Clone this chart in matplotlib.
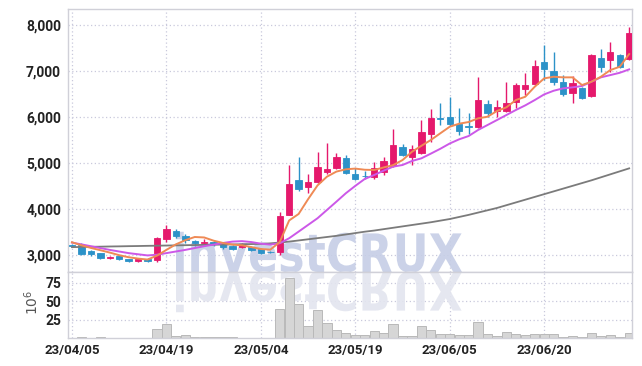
import numpy as np
import matplotlib
matplotlib.use("Agg")
import matplotlib.pyplot as plt
from matplotlib.textpath import TextPath
from matplotlib.patches import PathPatch
from matplotlib.font_manager import FontProperties
from matplotlib.transforms import Affine2D

# daily candles, 60 trading days (23/04/05 .. 23/07/xx)
opens = [3225, 3230, 3090, 3055, 2950, 2980, 2915, 2880, 2930, 2900,
         3360, 3530, 3420, 3310, 3280, 3290, 3240, 3205, 3180, 3190,
         3130, 3080, 3080, 3880, 4640, 4480, 4600, 4820, 4890, 5110,
         4760, 4730, 4710, 4805, 4950, 5350, 5140, 5220, 5630, 5985,
         6000, 5850, 5800, 5780, 6280, 6140, 6140, 6340, 6610, 6720,
         7200, 7000, 6760, 6530, 6640, 6460, 7280, 7240, 7350, 7260]
closes = [3215, 3040, 3020, 2950, 2965, 2920, 2880, 2915, 2880, 3370,
          3580, 3420, 3340, 3270, 3300, 3240, 3190, 3140, 3230, 3120,
          3060, 3065, 3860, 4550, 4440, 4590, 4920, 4880, 5130, 4790,
          4660, 4715, 4890, 5050, 5400, 5190, 5300, 5680, 5980, 5970,
          5850, 5710, 5790, 6370, 6100, 6215, 6300, 6690, 6710, 7110,
          7040, 6770, 6500, 6750, 6420, 7350, 7100, 7410, 7080, 7830]
highs = [3250, 3260, 3110, 3060, 2980, 3000, 2920, 2940, 2940, 3400,
         3670, 3580, 3470, 3340, 3350, 3320, 3260, 3230, 3260, 3210,
         3150, 3090, 3950, 4960, 5130, 4760, 5240, 5440, 5220, 5180,
         4890, 4830, 5020, 5140, 5740, 5420, 5390, 5940, 6170, 6310,
         6430, 6210, 6090, 6880, 6370, 6370, 6760, 6740, 6950, 7240,
         7570, 7420, 6910, 6890, 6660, 7370, 7490, 7640, 7370, 7950]
lows = [3200, 3010, 2990, 2920, 2930, 2900, 2860, 2860, 2860, 2860,
        3300, 3370, 3280, 3200, 3250, 3210, 3150, 3110, 3160, 3090,
        3030, 3050, 3000, 3870, 4400, 4360, 4580, 4760, 4870, 4760,
        4640, 4660, 4650, 4740, 4930, 5160, 4970, 5200, 5470, 5840,
        5800, 5610, 5630, 5760, 6010, 6010, 6120, 6190, 6480, 6700,
        6810, 6700, 6460, 6300, 6400, 6440, 6990, 6990, 7060, 7240]

# moving averages as drawn
ma_short = [3285, 3221, 3163, 3113, 3062, 3005, 2961, 2931, 2910, 2995,
            3120, 3240, 3330, 3400, 3390, 3320, 3270, 3235, 3220, 3180,
            3140, 3125, 3290, 3760, 3900, 4220, 4520, 4710, 4820, 4870,
            4885, 4860, 4855, 4910, 4960, 5070, 5250, 5380, 5506, 5651,
            5794, 5860, 5896, 5976, 6011, 6135, 6215, 6373, 6445, 6662,
            6844, 6879, 6866, 6866, 6699, 6770, 6879, 7024, 7096, 7371]
ma_mid = [3278, 3240, 3200, 3160, 3120, 3085, 3050, 3025, 3000, 3015,
          3050, 3085, 3120, 3160, 3200, 3235, 3270, 3300, 3310, 3290,
          3255, 3235, 3264, 3373, 3517, 3662, 3807, 3987, 4167, 4350,
          4510, 4660, 4746, 4840, 4927, 4963, 5050, 5108, 5210, 5315,
          5430, 5521, 5592, 5723, 5831, 5939, 6048, 6157, 6258, 6373,
          6496, 6575, 6627, 6649, 6677, 6770, 6866, 6915, 6965, 7039]
ma_long = [3180, 3183, 3187, 3190, 3194, 3197, 3201, 3204, 3208, 3211,
           3215, 3218, 3222, 3225, 3229, 3232, 3236, 3239, 3243, 3246,
           3250, 3262, 3280, 3300, 3325, 3350, 3375, 3400, 3425, 3455,
           3485, 3515, 3540, 3570, 3600, 3630, 3660, 3690, 3720, 3755,
           3790, 3835, 3880, 3930, 3980, 4030, 4090, 4150, 4210, 4270,
           4330, 4390, 4450, 4510, 4570, 4630, 4695, 4760, 4825, 4890]

# volume in millions
volume = [0.4, 1.8, 0.4, 1.8, 0.4, 0.4, 0.4, 0.4, 0.4, 12.5,
          18.5, 2.8, 4.6, 1.5, 1.5, 1.5, 1.5, 1.5, 0.3, 0.3,
          0.3, 0.4, 39.0, 82.0, 46.0, 16.0, 38.0, 21.0, 11.5, 7.5,
          4.5, 4.5, 10.0, 7.2, 18.5, 3.2, 3.2, 15.8, 10.5, 6.0,
          6.0, 4.6, 4.6, 22.3, 5.0, 3.2, 8.5, 6.0, 4.6, 6.0,
          6.0, 6.0, 1.6, 3.3, 1.6, 7.3, 3.3, 4.6, 1.6, 7.3]

tick_idx = [0, 10, 20, 30, 40, 50]
tick_labels = ["23/04/05", "23/04/19", "23/05/04", "23/05/19", "23/06/05", "23/06/20"]
price_ticks = [3000, 4000, 5000, 6000, 7000, 8000]
vol_ticks = [25, 50, 75]

UP = "#e5196c"
DOWN = "#2c92c8"
GRID = "#c9c9dc"
SPINE = "#d0d0d8"

plt.rcParams['font.family'] = ['Roboto', 'DejaVu Sans']

W, H = 642, 366
fig = plt.figure(figsize=(W / 100, H / 100), dpi=100)
left, right = 68 / W, 632 / W
ax1 = fig.add_axes([left, 1 - 272 / H, right - left, (272 - 9) / H])
ax2 = fig.add_axes([left, 1 - 338 / H, right - left, (338 - 272) / H], sharex=ax1)

x = np.arange(len(opens))
o = np.array(opens)
c = np.array(closes)
up = c >= o
cols = np.where(up, UP, DOWN)

ax1.vlines(x, lows, highs, colors=cols, linewidth=1.0, zorder=3)
body_lo = np.minimum(o, c)
body_h = np.maximum(np.abs(c - o), 18)
ax1.bar(x, body_h, bottom=body_lo, width=0.68, color=cols, edgecolor=cols,
        linewidth=0.6, zorder=4)

ax1.plot(x, ma_long, color="#7b7b7b", linewidth=1.3, zorder=5)
ax1.plot(x, ma_mid, color="#cc58e8", linewidth=1.4, zorder=5)
ax1.plot(x, ma_short, color="#ef8a55", linewidth=1.4, zorder=6)

ax2.bar(x, volume, width=0.98, color="#d6d6d6", edgecolor="#b9b9b9",
        linewidth=0.7, zorder=2)

for ax in (ax1, ax2):
    ax.set_xlim(-0.42, 59.3)
    ax.grid(True, color=GRID, linestyle=(0, (1, 2)), linewidth=0.9)
    ax.set_axisbelow(True)
    ax.tick_params(length=0, colors="#222222", labelsize=10, pad=5)
    for s in ax.spines.values():
        s.set_color(SPINE)
        s.set_linewidth(1.0)

ax1.set_ylim(2640, 8350)
ax1.set_yticks(price_ticks)
ax1.set_yticklabels([f"{v:,}" for v in price_ticks])
ax1.tick_params(axis='x', labelbottom=False)

ax2.set_ylim(0, 90)
ax2.set_yticks(vol_ticks)
ax2.set_xticks(tick_idx)
ax2.set_xticklabels(tick_labels)
ax2.tick_params(axis='x', pad=4, labelsize=9.5)

for lab in ax1.get_yticklabels() + ax2.get_yticklabels() + ax2.get_xticklabels():
    lab.set_fontweight('bold')

fig.text(32 / W, 1 - 302 / H, r"$10^6$", rotation=90, ha="center", va="center",
         fontsize=10, color="#555555")

# watermark with reflection
tp = TextPath((0, 0), "investCRUX", size=100,
              prop=FontProperties(family="DejaVu Sans", weight="bold"))
bb = tp.get_extents()
x0, x1, base, cap = 176, 462, 272, 41
sx = (x1 - x0) / bb.width
sy = cap / bb.height
tr_up = Affine2D().translate(-bb.x0, 0).scale(sx / W, sy / H).translate(x0 / W, 1 - base / H) + fig.transFigure
tr_dn = Affine2D().translate(-bb.x0, 0).scale(sx / W, -sy / H).translate(x0 / W, 1 - base / H) + fig.transFigure
ax1.add_patch(PathPatch(tp, transform=tr_up, facecolor="#c6cee6", edgecolor="none",
                        alpha=0.9, zorder=1, clip_on=False))
ax2.add_patch(PathPatch(tp, transform=tr_dn, facecolor="#e3e5ef", edgecolor="none",
                        alpha=0.9, zorder=1, clip_on=False))

fig.savefig("out.png", dpi=100, facecolor="white")
